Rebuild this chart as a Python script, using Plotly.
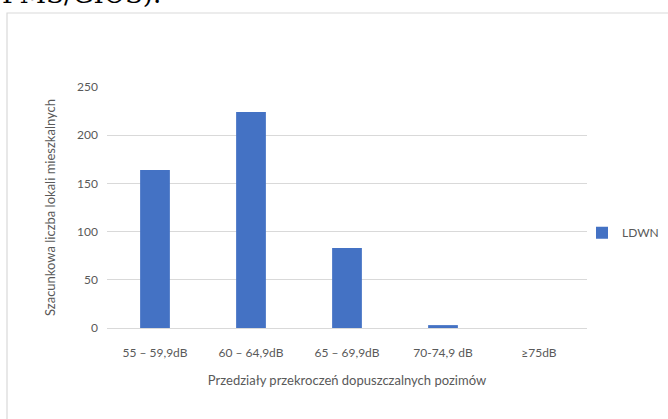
import plotly.graph_objects as go

# Exceedance ranges and estimated number of dwellings
categories = ["55 – 59,9dB", "60 – 64,9dB", "65 – 69,9dB", "70-74,9 dB", "≥75dB"]
ldwn_values = [164, 224, 83, 3, 0]
y_ticks = [0, 50, 100, 150, 200, 250]

font_family = "Lato, Open Sans, sans-serif"
grey = "#595959"

fig = go.Figure()
fig.add_trace(go.Bar(
    x=categories,
    y=ldwn_values,
    name="LDWN",
    marker=dict(color="#4472C4", line=dict(width=0)),
    width=0.31,
))

fig.update_layout(
    width=668,
    height=419,
    margin=dict(l=107, r=81, t=87, b=91, autoexpand=False),
    paper_bgcolor="white",
    plot_bgcolor="white",
    font=dict(family=font_family, size=12, color=grey),
    showlegend=True,
    legend=dict(
        x=(664 - 107) / 480, y=0.395, xanchor="right", yanchor="middle",
        font=dict(size=12, color=grey),
        itemwidth=30,
        bgcolor="rgba(0,0,0,0)",
    ),
    xaxis=dict(
        showgrid=False,
        showline=True,
        linecolor="#d9d9d9",
        linewidth=1,
        ticks="",
        ticklabelstandoff=14,
        tickfont=dict(size=12, color=grey),
        title=dict(text="Przedziały przekroczeń dopuszczalnych pozimów",
                   font=dict(size=13, color=grey), standoff=16),
    ),
    yaxis=dict(
        range=[0, 250],
        tickvals=y_ticks,
        showgrid=True,
        gridcolor="#d9d9d9",
        gridwidth=1,
        zeroline=False,
        showline=False,
        ticks="",
        ticklabelstandoff=8,
        tickfont=dict(size=12, color=grey),
        title=dict(text="Szacunkowa liczba lokali mieszkalnych",
                   font=dict(size=13, color=grey), standoff=18),
    ),
    shapes=[
        # chart frame
        dict(type="rect", xref="paper", yref="paper",
             x0=-100 / 480, x1=600 / 480, y0=-120 / 241, y1=(328 - 13) / 241,
             line=dict(color="#d9d9d9", width=1.2), fillcolor="rgba(0,0,0,0)",
             layer="below"),
    ],
    annotations=[
        # tail of the preceding document line
        dict(text="PMS/GIOŚ).", xref="paper", yref="paper",
             x=-107 / 480, y=(328 - 11) / 241, xanchor="left", yanchor="bottom",
             showarrow=False,
             font=dict(family="DejaVu Serif, Liberation Serif, serif", size=26, color="black")),
    ],
)

fig.write_html("out.html")
